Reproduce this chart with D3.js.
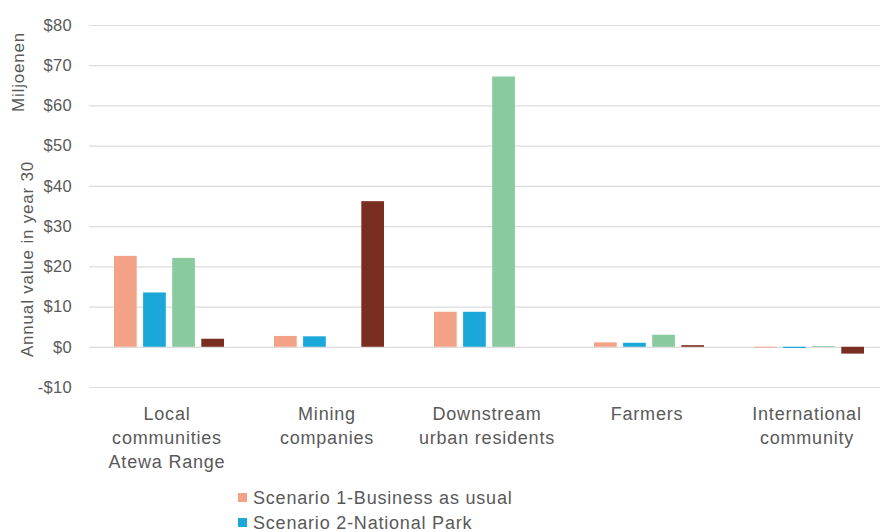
<!DOCTYPE html>
<html>
<head>
<meta charset="utf-8">
<script src="https://cdn.jsdelivr.net/npm/d3@7"></script>
<style>
  html, body { margin: 0; padding: 0; background: #ffffff; overflow: hidden; }
  svg { display: block; font-family: "Liberation Sans", Arial, sans-serif; }
</style>
</head>
<body>
<svg id="chart" width="880" height="532"></svg>
<script>
// Stakeholder groups (multi-line labels)
const categories = [
  ["Local", "communities", "Atewa Range"],
  ["Mining", "companies"],
  ["Downstream", "urban residents"],
  ["Farmers"],
  ["International", "community"]
];
const categoryKeys = categories.map(c => c.join(" "));

// Scenario names
const seriesNames = [
  "Scenario 1-Business as usual",
  "Scenario 2-National Park",
  "Scenario 3-Sustainable use",
  "Scenario 4-Mining"
];

// Annual value in year 30, millions of dollars, per scenario
const scenario1 = [22.6, 2.7, 8.7, 1.1, -0.2];
const scenario2 = [13.5, 2.6, 8.7, 1.0, -0.3];
const scenario3 = [22.1, 0.0, 67.2, 3.0, 0.2];
const scenario4 = [2.0, 36.2, 0.0, 0.4, -1.7];
const seriesValues = [scenario1, scenario2, scenario3, scenario4];

const seriesColors = ["#f3a287", "#1aa8d8", "#89ca9f", "#7a2e22"];

// Value axis ticks
const yTicks = [-10, 0, 10, 20, 30, 40, 50, 60, 70, 80];
const yTickLabels = ["-$10", "$0", "$10", "$20", "$30", "$40", "$50", "$60", "$70", "$80"];

const svg = d3.select("#chart");

const plotLeft = 89, plotRight = 889;
const y = d3.scaleLinear().domain([-10, 80]).range([387, 25]);
const x0 = d3.scaleBand().domain(categoryKeys).range([plotLeft, plotRight]).padding(0);
const x1 = d3.scaleBand().domain(seriesNames).range([25, 135]).paddingInner(0.22).paddingOuter(0);

const textColor = "#595959";

// Horizontal gridlines with dollar tick labels
const yAxis = d3.axisLeft(y)
  .tickValues(yTicks)
  .tickSize(-(880 - plotLeft))
  .tickPadding(17)
  .tickFormat((d, i) => yTickLabels[i]);

const gy = svg.append("g")
  .attr("transform", `translate(${plotLeft},0)`)
  .call(yAxis);
gy.select(".domain").remove();
gy.selectAll(".tick line").attr("stroke", "#dcdcdc").attr("stroke-width", 1.2);
gy.selectAll(".tick text")
  .attr("fill", textColor)
  .style("font-size", "16.5px")
  .style("letter-spacing", "0.3px");

// Bars
const groups = svg.append("g")
  .selectAll("g")
  .data(categoryKeys)
  .join("g")
  .attr("transform", d => `translate(${x0(d)},0)`);

groups.selectAll("rect")
  .data((d, ci) => seriesNames.map((s, si) => ({ s, v: seriesValues[si][ci], si })))
  .join("rect")
  .attr("x", d => x1(d.s))
  .attr("width", x1.bandwidth())
  .attr("y", d => y(Math.max(0, d.v)))
  .attr("height", d => Math.abs(y(d.v) - y(0)))
  .attr("fill", d => seriesColors[d.si]);

// Category labels
const catLabels = svg.append("g")
  .selectAll("text")
  .data(categories)
  .join("text")
  .attr("x", (d, i) => x0(categoryKeys[i]) + x0.bandwidth() / 2 - 2)
  .attr("y", 420)
  .attr("text-anchor", "middle")
  .attr("fill", textColor)
  .style("font-size", "18px")
  .style("letter-spacing", "0.8px");

catLabels.selectAll("tspan")
  .data(d => d)
  .join("tspan")
  .attr("x", function () { return d3.select(this.parentNode).attr("x"); })
  .attr("dy", (d, i) => i === 0 ? 0 : 24)
  .text(d => d);

// Axis titles
svg.append("text")
  .attr("transform", "translate(24,72) rotate(-90)")
  .attr("text-anchor", "middle")
  .attr("fill", textColor)
  .style("font-size", "17px")
  .style("letter-spacing", "0.8px")
  .text("Miljoenen");

svg.append("text")
  .attr("transform", "translate(33,259) rotate(-90)")
  .attr("text-anchor", "middle")
  .attr("fill", textColor)
  .style("font-size", "17px")
  .style("letter-spacing", "0.8px")
  .text("Annual value in year 30");

// Legend
const legend = svg.append("g")
  .selectAll("g")
  .data(seriesNames)
  .join("g")
  .attr("transform", (d, i) => `translate(238,${493 + i * 25})`);

legend.append("rect")
  .attr("width", 9)
  .attr("height", 9)
  .attr("fill", (d, i) => seriesColors[i]);

legend.append("text")
  .attr("x", 15)
  .attr("y", 11)
  .attr("fill", textColor)
  .style("font-size", "18px")
  .style("letter-spacing", "0.8px")
  .text(d => d);
</script>
</body>
</html>
